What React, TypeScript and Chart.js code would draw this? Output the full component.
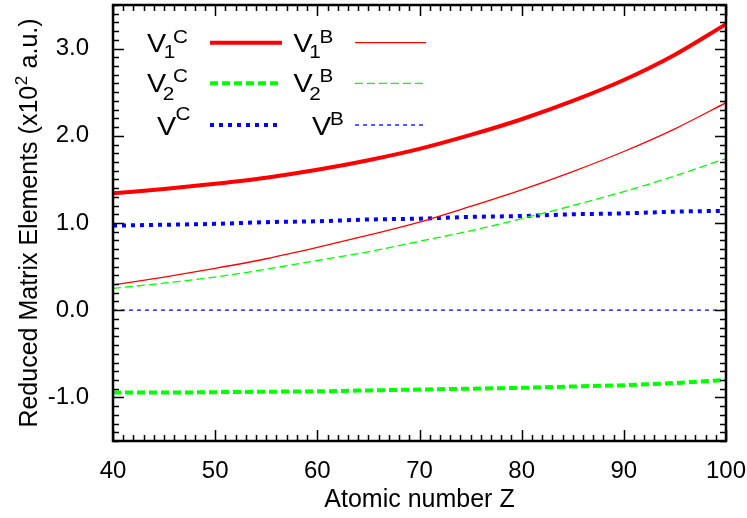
import React, { useEffect, useRef } from 'react';
import { Chart, registerables } from 'chart.js';

Chart.register(...registerables);

// Atomic number Z (x axis)
const Z = [40, 45, 50, 55, 60, 65, 70, 75, 80, 85, 90, 95, 100];
// Reduced matrix elements (x10^2 a.u.)
const V1C = [1.34, 1.39, 1.45, 1.52, 1.61, 1.72, 1.85, 2.01, 2.19, 2.40, 2.64, 2.93, 3.28];
const V1B = [0.29, 0.38, 0.48, 0.59, 0.72, 0.86, 1.01, 1.19, 1.38, 1.59, 1.82, 2.08, 2.38];
const V2C = [-0.945, -0.945, -0.94, -0.935, -0.93, -0.92, -0.91, -0.90, -0.89, -0.875, -0.86, -0.835, -0.80];
const V2B = [0.25, 0.31, 0.38, 0.47, 0.57, 0.67, 0.79, 0.91, 1.05, 1.20, 1.36, 1.54, 1.74];
const VC = [0.97, 0.98, 0.99, 1.01, 1.02, 1.04, 1.05, 1.07, 1.08, 1.10, 1.11, 1.13, 1.14];
const VB = [0, 0, 0, 0, 0, 0, 0, 0, 0, 0, 0, 0, 0];

const X_TICKS = [40, 50, 60, 70, 80, 90, 100];
const Y_TICKS = [-1, 0, 1, 2, 3];
const Y_TITLE = ['Reduced Matrix Elements (x10', '2', ' a.u.)'];

const FONT = '"Liberation Sans", Arial, Helvetica, sans-serif';

const pts = (ys: number[]) => Z.map((z, i) => ({ x: z, y: ys[i] }));

function drawText(ctx: CanvasRenderingContext2D, s: string, cx: number, by: number, size: number) {
  ctx.save();
  ctx.font = `${size}px ${FONT}`;
  ctx.fillStyle = '#000';
  ctx.textAlign = 'center';
  ctx.textBaseline = 'alphabetic';
  ctx.translate(cx, by);
  ctx.scale(1.15, 1);
  ctx.fillText(s, 0, 0);
  ctx.restore();
}

const framePlugin = {
  id: 'frameTicks',
  afterDatasetsDraw(chart: any) {
    const { ctx, chartArea, scales } = chart;
    const { left, right, top, bottom } = chartArea;
    const x = scales.x;
    const y = scales.y;
    ctx.save();
    ctx.strokeStyle = '#000';
    ctx.lineWidth = 1.5;
    ctx.beginPath();
    for (let v = 40; v <= 100; v++) {
      const px = Math.round(x.getPixelForValue(v)) + 0.5;
      const len = v % 10 === 0 ? 11 : 6;
      ctx.moveTo(px, bottom);
      ctx.lineTo(px, bottom - len);
      ctx.moveTo(px, top);
      ctx.lineTo(px, top + len);
    }
    for (let i = -15; i <= 35; i++) {
      const py = Math.round(y.getPixelForValue(i / 10)) + 0.5;
      const len = i % 10 === 0 ? 11 : 6;
      ctx.moveTo(left, py);
      ctx.lineTo(left + len, py);
      ctx.moveTo(right, py);
      ctx.lineTo(right - len, py);
    }
    ctx.stroke();
    ctx.lineWidth = 2.5;
    ctx.strokeRect(left, top, right - left, bottom - top);
    ctx.restore();

    // Y axis title with superscript
    ctx.save();
    ctx.fillStyle = '#000';
    ctx.textBaseline = 'alphabetic';
    ctx.textAlign = 'left';
    const mainF = `25px ${FONT}`;
    const supF = `17px ${FONT}`;
    ctx.font = mainF;
    const w1 = ctx.measureText(Y_TITLE[0]).width;
    const w3 = ctx.measureText(Y_TITLE[2]).width;
    ctx.font = supF;
    const w2 = ctx.measureText(Y_TITLE[1]).width;
    const total = w1 + w2 + w3 + 1;
    ctx.translate(37, (top + bottom) / 2);
    ctx.rotate(-Math.PI / 2);
    let cx = -total / 2;
    ctx.font = mainF;
    ctx.fillText(Y_TITLE[0], cx, 0);
    cx += w1 + 0.5;
    ctx.font = supF;
    ctx.fillText(Y_TITLE[1], cx, -10);
    cx += w2 + 0.5;
    ctx.font = mainF;
    ctx.fillText(Y_TITLE[2], cx, 0);
    ctx.restore();

    // Legend
    const ds = chart.data.datasets;
    const sample = (idx: number, x0: number, x1: number, yy: number) => {
      const d = ds[idx];
      ctx.save();
      ctx.strokeStyle = d.borderColor;
      ctx.lineWidth = d.borderWidth;
      ctx.setLineDash(d.borderDash || []);
      ctx.beginPath();
      ctx.moveTo(x0, yy);
      ctx.lineTo(x1, yy);
      ctx.stroke();
      ctx.restore();
    };
    // row 1
    drawText(ctx, 'V', 156.7, 51.5, 25);
    drawText(ctx, '1', 169.5, 58, 18);
    drawText(ctx, 'C', 180.5, 43, 18);
    sample(0, 210, 282, 42.7);
    drawText(ctx, 'V', 303, 51.5, 25);
    drawText(ctx, '1', 315, 58, 18);
    drawText(ctx, 'B', 326.5, 43, 18);
    sample(1, 355, 426, 42.7);
    // row 2
    drawText(ctx, 'V', 156.7, 91.5, 25);
    drawText(ctx, '2', 168.5, 100, 18);
    drawText(ctx, 'C', 180.5, 82, 18);
    sample(2, 210, 282, 83.3);
    drawText(ctx, 'V', 303, 91.5, 25);
    drawText(ctx, '2', 315, 100, 18);
    drawText(ctx, 'B', 326.5, 82, 18);
    sample(3, 355, 426, 83.3);
    // row 3
    drawText(ctx, 'V', 166.7, 135, 25);
    drawText(ctx, 'C', 183, 120, 18);
    sample(4, 210, 278, 125);
    drawText(ctx, 'V', 321.7, 135, 25);
    drawText(ctx, 'B', 337, 125, 18);
    sample(5, 355, 423, 125);
  },
};

export default function App() {
  const ref = useRef<HTMLCanvasElement | null>(null);
  useEffect(() => {
    document.body.style.margin = '0';
    if (!ref.current) return;
    const chart = new Chart(ref.current, {
      type: 'line',
      data: {
        datasets: [
          { label: 'V1C', data: pts(V1C), borderColor: '#ff0000', borderWidth: 4 },
          { label: 'V1B', data: pts(V1B), borderColor: '#ff0000', borderWidth: 1.3 },
          { label: 'V2C', data: pts(V2C), borderColor: '#00ff00', borderWidth: 4, borderDash: [8, 4] },
          { label: 'V2B', data: pts(V2B), borderColor: '#00ff00', borderWidth: 1.3, borderDash: [8, 4] },
          { label: 'VC', data: pts(VC), borderColor: '#0000ff', borderWidth: 4, borderDash: [4, 5] },
          { label: 'VB', data: pts(VB), borderColor: '#0000ff', borderWidth: 1.3, borderDash: [4, 4] },
        ] as any,
      },
      options: {
        animation: false,
        responsive: true,
        maintainAspectRatio: false,
        elements: {
          point: { radius: 0 },
          line: { tension: 0.4, cubicInterpolationMode: 'monotone', fill: false },
        },
        layout: { padding: { top: 5, right: 21, left: 0, bottom: 0 } },
        plugins: { legend: { display: false }, tooltip: { enabled: false } },
        scales: {
          x: {
            type: 'linear',
            min: 40,
            max: 100,
            grid: { display: false },
            border: { display: false },
            afterBuildTicks: (s: any) => {
              s.ticks = X_TICKS.map((v) => ({ value: v }));
            },
            afterFit: (s: any) => {
              s.height = 77;
              s.paddingLeft = 0;
              s.paddingRight = 0;
            },
            ticks: {
              color: '#000',
              font: { family: FONT, size: 24 },
              padding: 8,
              maxRotation: 0,
              autoSkip: false,
              callback: (v: any) => String(v),
            },
            title: {
              display: true,
              text: 'Atomic number Z',
              color: '#000',
              font: { family: FONT, size: 25 },
              padding: { top: 0, bottom: 3 },
            },
          },
          y: {
            type: 'linear',
            min: -1.5,
            max: 3.5,
            grid: { display: false },
            border: { display: false },
            afterBuildTicks: (s: any) => {
              s.ticks = Y_TICKS.map((v) => ({ value: v }));
            },
            afterFit: (s: any) => {
              s.width = 113;
              s.paddingTop = 0;
              s.paddingBottom = 0;
            },
            ticks: {
              color: '#000',
              font: { family: FONT, size: 24 },
              padding: 16,
              autoSkip: false,
              callback: (v: any) => Number(v).toFixed(1),
            },
            title: { display: false },
          },
        },
      } as any,
      plugins: [framePlugin],
    });
    return () => chart.destroy();
  }, []);
  return (
    <div style={{ position: 'fixed', left: 0, top: 0, width: 747, height: 518 }}>
      <canvas ref={ref} />
    </div>
  );
}
